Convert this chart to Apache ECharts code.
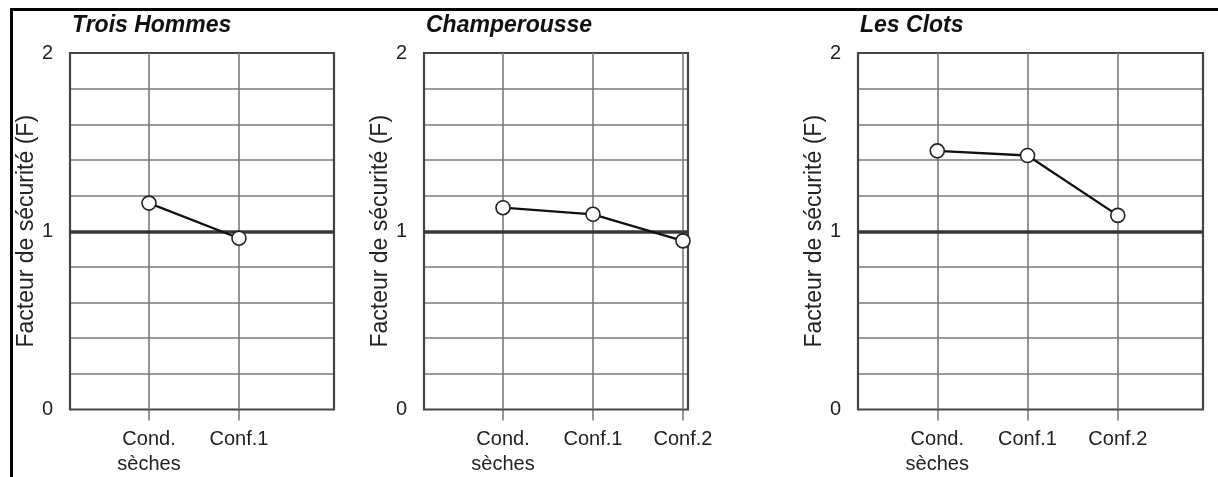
<!DOCTYPE html>
<html>
<head>
<meta charset="utf-8">
<script src="https://cdn.jsdelivr.net/npm/echarts@6/dist/echarts.min.js"></script>
<style>
  html, body { margin: 0; padding: 0; background: #fff; }
  #chart { width: 1218px; height: 477px; }
</style>
</head>
<body>
<div id="chart"></div>
<script>
// Safety factor per site and scenario
const siteNames = ['Trois Hommes', 'Champerousse', 'Les Clots'];
const categories = ['Cond.\nsèches', 'Conf.1', 'Conf.2'];
const troisHommes = [1.158, 0.961];
const champerousse = [1.132, 1.095, 0.946];
const lesClots = [1.451, 1.425, 1.089];
const yMin = 0, yMax = 2, yStep = 0.2;
const yLabeled = [0, 1, 2];
const yName = 'Facteur de sécurité (F)';

const siteValues = [troisHommes, champerousse, lesClots];

// Panel frames (pixel layout) and x extent in category units
const panels = [
  { left: 70,  width: 264, xMin: 0.122, xMax: 3.056 },
  { left: 424, width: 264, xMin: 0.122, xMax: 3.056 },
  { left: 858, width: 345, xMin: 0.122, xMax: 3.944 }
];
const gridTop = 53, gridHeight = 356.5;
const FONT = 'Liberation Sans, Arial, Helvetica, sans-serif';

// grey split lines, hidden at the frame edges
const nSplit = Math.round((yMax - yMin) / yStep) + 1;
const splitColors = Array.from({ length: nSplit }, (_, i) =>
  (i === 0 || i === nSplit - 1) ? 'rgba(0,0,0,0)' : '#7a7a7a');

const grid = [], xAxis = [], yAxis = [], series = [], title = [];

panels.forEach((p, k) => {
  const vals = siteValues[k];
  const pos = vals.map((_, i) => i + 1);

  grid.push({
    left: p.left, top: gridTop, width: p.width, height: gridHeight,
    show: true, borderColor: '#444', borderWidth: 2.2,
    backgroundColor: 'rgba(0,0,0,0)', z: 1
  });

  title.push({
    text: siteNames[k], left: p.left + 2, top: 14, padding: 0,
    textStyle: { fontFamily: FONT, fontSize: 23, fontWeight: 'bold',
                 fontStyle: 'italic', color: '#111' }
  });

  xAxis.push({
    type: 'value', gridIndex: k, min: p.xMin, max: p.xMax,
    axisLine: { show: false },
    splitLine: { show: false },
    axisTick: { show: true, customValues: pos, length: 11, inside: false,
                lineStyle: { color: '#7a7a7a', width: 1.6 } },
    axisLabel: {
      show: true, customValues: pos, margin: 17,
      formatter: v => categories[Math.round(v) - 1] || '',
      fontFamily: FONT, fontSize: 20, lineHeight: 25, color: '#222'
    }
  });

  yAxis.push({
    type: 'value', gridIndex: k, min: yMin, max: yMax, interval: yStep,
    name: yName, nameLocation: 'middle', nameGap: 29, nameRotate: 90,
    nameTextStyle: { fontFamily: FONT, fontSize: 23, color: '#222' },
    axisLine: { show: false },
    axisTick: { show: false },
    axisLabel: {
      margin: 17, fontFamily: FONT, fontSize: 20, color: '#222',
      padding: [4, 0, 0, 0],
      formatter: v => yLabeled.some(t => Math.abs(t - v) < 1e-6) ? String(Math.round(v)) : ''
    },
    splitLine: { show: true, lineStyle: { color: splitColors, width: 1.6 } }
  });

  // vertical grid at each scenario and heavy reference line at F = 1
  series.push({
    type: 'line', xAxisIndex: k, yAxisIndex: k, data: [], z: 2, silent: true,
    markLine: {
      silent: true, animation: false, symbol: ['none', 'none'],
      label: { show: false },
      lineStyle: { color: '#7a7a7a', width: 1.6, type: 'solid' },
      data: pos.map(x => ({ xAxis: x })).concat([
        { yAxis: 1, lineStyle: { color: '#383838', width: 3.6, type: 'solid' } }
      ])
    }
  });

  series.push({
    type: 'line', xAxisIndex: k, yAxisIndex: k, z: 5,
    data: vals.map((v, i) => [i + 1, v]),
    symbol: 'circle', symbolSize: 14,
    lineStyle: { color: '#111', width: 2.3 },
    itemStyle: { color: '#fff', borderColor: '#222', borderWidth: 1.6 },
    animation: false
  });
});

const chart = echarts.init(document.getElementById('chart'), null, { renderer: 'canvas' });
chart.setOption({
  backgroundColor: '#fff',
  animation: false,
  title, grid, xAxis, yAxis, series,
  graphic: [
    { type: 'line', silent: true, shape: { x1: 10, y1: 9.5, x2: 1218, y2: 9.5 },
      style: { stroke: '#000', lineWidth: 3 } },
    { type: 'line', silent: true, shape: { x1: 11.5, y1: 8, x2: 11.5, y2: 477 },
      style: { stroke: '#000', lineWidth: 3 } }
  ]
});
</script>
</body>
</html>
